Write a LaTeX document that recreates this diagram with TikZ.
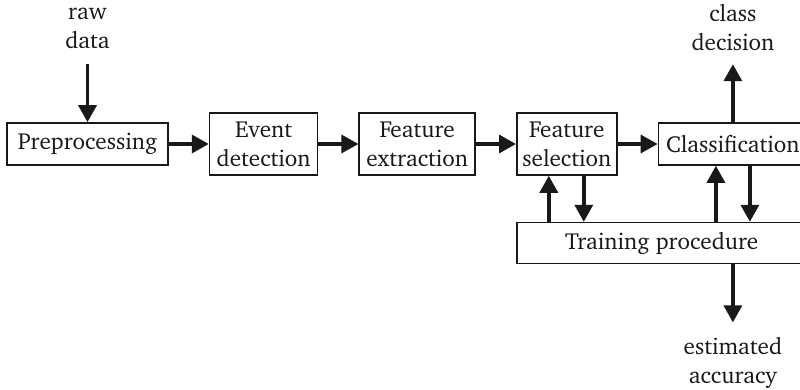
\documentclass[tikz,border=0pt]{standalone}
\usepackage[T1]{fontenc}
\usepackage{charter}
\usetikzlibrary{arrows.meta, positioning}

\begin{document}
\begin{tikzpicture}[
  node distance=20pt,
  block/.style={draw, line width=0.8pt, inner sep=1pt, align=center, font=\fontsize{11.6}{14.5}\selectfont},
  lbl/.style={inner sep=0pt, align=center, font=\fontsize{11.6}{14.5}\selectfont},
  arrow/.style={-{Triangle[length=8.5pt, width=9pt]}, line width=1.7pt}
]
  \useasboundingbox (0,0) rectangle (400pt,195pt);
  \begin{scope}[color=black!90]
  % processing chain
  \node[block, minimum width=80.5pt, minimum height=21pt] (pre) at (43.75pt,123pt) {Preprocessing};
  \node[block, minimum width=54pt, minimum height=31pt, right=of pre] (event) {Event\\detection};
  \node[block, minimum width=58pt, minimum height=31pt, right=of event] (extract) {Feature\\extraction};
  \node[block, minimum width=50pt, minimum height=31pt, right=of extract] (select) {Feature\\selection};
  \node[block, minimum width=74.5pt, minimum height=21pt, right=of select] (classif) {Classification};
  \node[block, minimum width=145pt, minimum height=20.5pt, below=23pt of select.south west, anchor=north west] (train) {Training procedure};

  % inputs and outputs
  \node[lbl, above=36.5pt of pre, anchor=south] (raw) {raw\\data};
  \node[lbl, above=35.5pt of classif, anchor=south] (decision) {class\\decision};
  \node[lbl, below=36.5pt of train.south -| classif.south, anchor=north] (accuracy) {estimated\\accuracy};

  \draw[arrow, shorten <=7.5pt] (raw) -- (pre);
  \draw[arrow] (pre) -- (event);
  \draw[arrow] (event) -- (extract);
  \draw[arrow] (extract) -- (select);
  \draw[arrow] (select) -- (classif);
  \draw[arrow, shorten >=6.5pt] (classif) -- (decision);
  \draw[arrow, shorten >=7.5pt] (train.south -| classif.south) -- (accuracy);

  % feedback with the training procedure
  \draw[arrow] ([xshift=-9pt]select.south |- train.north) -- ([xshift=-9pt]select.south);
  \draw[arrow] ([xshift=8.5pt]select.south) -- ([xshift=8.5pt]select.south |- train.north);
  \draw[arrow] ([xshift=-8.5pt]classif.south |- train.north) -- ([xshift=-8.5pt]classif.south);
  \draw[arrow] ([xshift=8.5pt]classif.south) -- ([xshift=8.5pt]classif.south |- train.north);
  \end{scope}
\end{tikzpicture}
\end{document}
